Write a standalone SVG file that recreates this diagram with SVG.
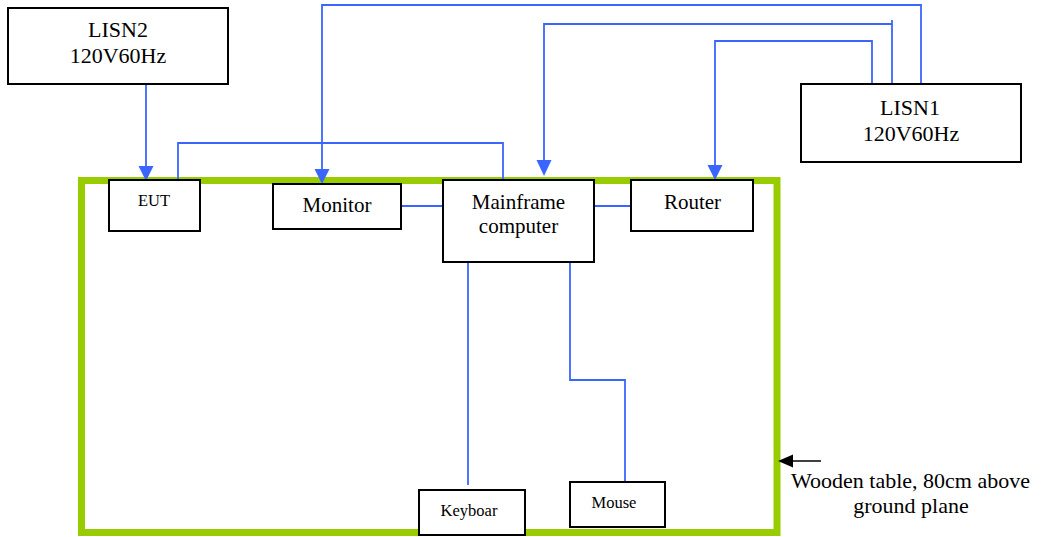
<svg xmlns="http://www.w3.org/2000/svg" width="1041" height="537" viewBox="0 0 1041 537">
<style>
.box{fill:#fff;stroke:#000;stroke-width:2}
.t{font-family:"Liberation Serif","Times New Roman",serif;fill:#000;text-anchor:middle}
.big{font-size:21px}
.lisn{font-size:22px}
.sm{font-size:16.5px}
.w{fill:none;stroke:#3a66ff;stroke-width:1.8}
.ah{fill:#3a66ff}
</style>
<rect width="1041" height="537" fill="#fff"/>
<g id="table">
<rect x="81.5" y="180.5" width="695.5" height="352" fill="none" stroke="#99cc00" stroke-width="7"/>
</g>
<g id="connectors">
<polyline class="w" points="146,84 146,170"/>
<polygon class="ah" points="138.5,166 153.5,166 146,181"/>
<polyline class="w" points="178,180 178,143 503,143 503,180"/>
<polyline class="w" points="921,84 921,5 322,5 322,172"/>
<polygon class="ah" points="314.5,169 329.5,169 322,184"/>
<polyline class="w" points="892,84 892,20"/>
<polyline class="w" points="892,24 544,24 544,164"/>
<polygon class="ah" points="536.5,160 551.5,160 544,176"/>
<polyline class="w" points="872,84 872,41 715,41 715,168"/>
<polygon class="ah" points="707.5,165 722.5,165 715,180"/>
<line class="w" x1="401" y1="206" x2="443" y2="206"/>
<line class="w" x1="594" y1="206" x2="631" y2="206"/>
<polyline class="w" points="468,262 468,485"/>
<polyline class="w" points="570,262 570,380 625,380 625,485"/>
<line x1="821" y1="461" x2="790" y2="461" stroke="#000" stroke-width="1.5"/>
<polygon points="778,461 793,454.5 793,467.5" fill="#000"/>
</g>
<g id="lisn2">
<rect class="box" x="8" y="8" width="220" height="76"/>
<text class="t lisn" x="118" y="37">LISN2</text>
<text class="t lisn" x="118" y="63">120V60Hz</text>
</g>
<g id="lisn1">
<rect class="box" x="801" y="84" width="220" height="78"/>
<text class="t lisn" x="910" y="115">LISN1</text>
<text class="t lisn" x="911" y="141">120V60Hz</text>
</g>
<g id="eut">
<rect class="box" x="109" y="180" width="91" height="51"/>
<text class="t sm" x="154" y="206">EUT</text>
</g>
<g id="monitor">
<rect class="box" x="273" y="184" width="128" height="45"/>
<text class="t big" x="337" y="212">Monitor</text>
</g>
<g id="mainframe">
<rect class="box" x="443" y="180" width="151" height="82"/>
<text class="t big" x="518.5" y="209">Mainframe</text>
<text class="t big" x="518.5" y="233">computer</text>
</g>
<g id="router">
<rect class="box" x="631" y="180" width="122" height="51"/>
<text class="t big" x="692.5" y="209">Router</text>
</g>
<g id="keyboard">
<rect class="box" x="419" y="490" width="106" height="45"/>
<text class="t sm" x="469" y="516">Keyboar</text>
</g>
<g id="mouse">
<rect class="box" x="570" y="482" width="95" height="45"/>
<text class="t sm" x="614" y="508">Mouse</text>
</g>
<g id="label">
<text class="t" font-size="22" x="910.5" y="488">Wooden table, 80cm above</text>
<text class="t" font-size="22" x="911" y="513">ground plane</text>
</g>
</svg>
